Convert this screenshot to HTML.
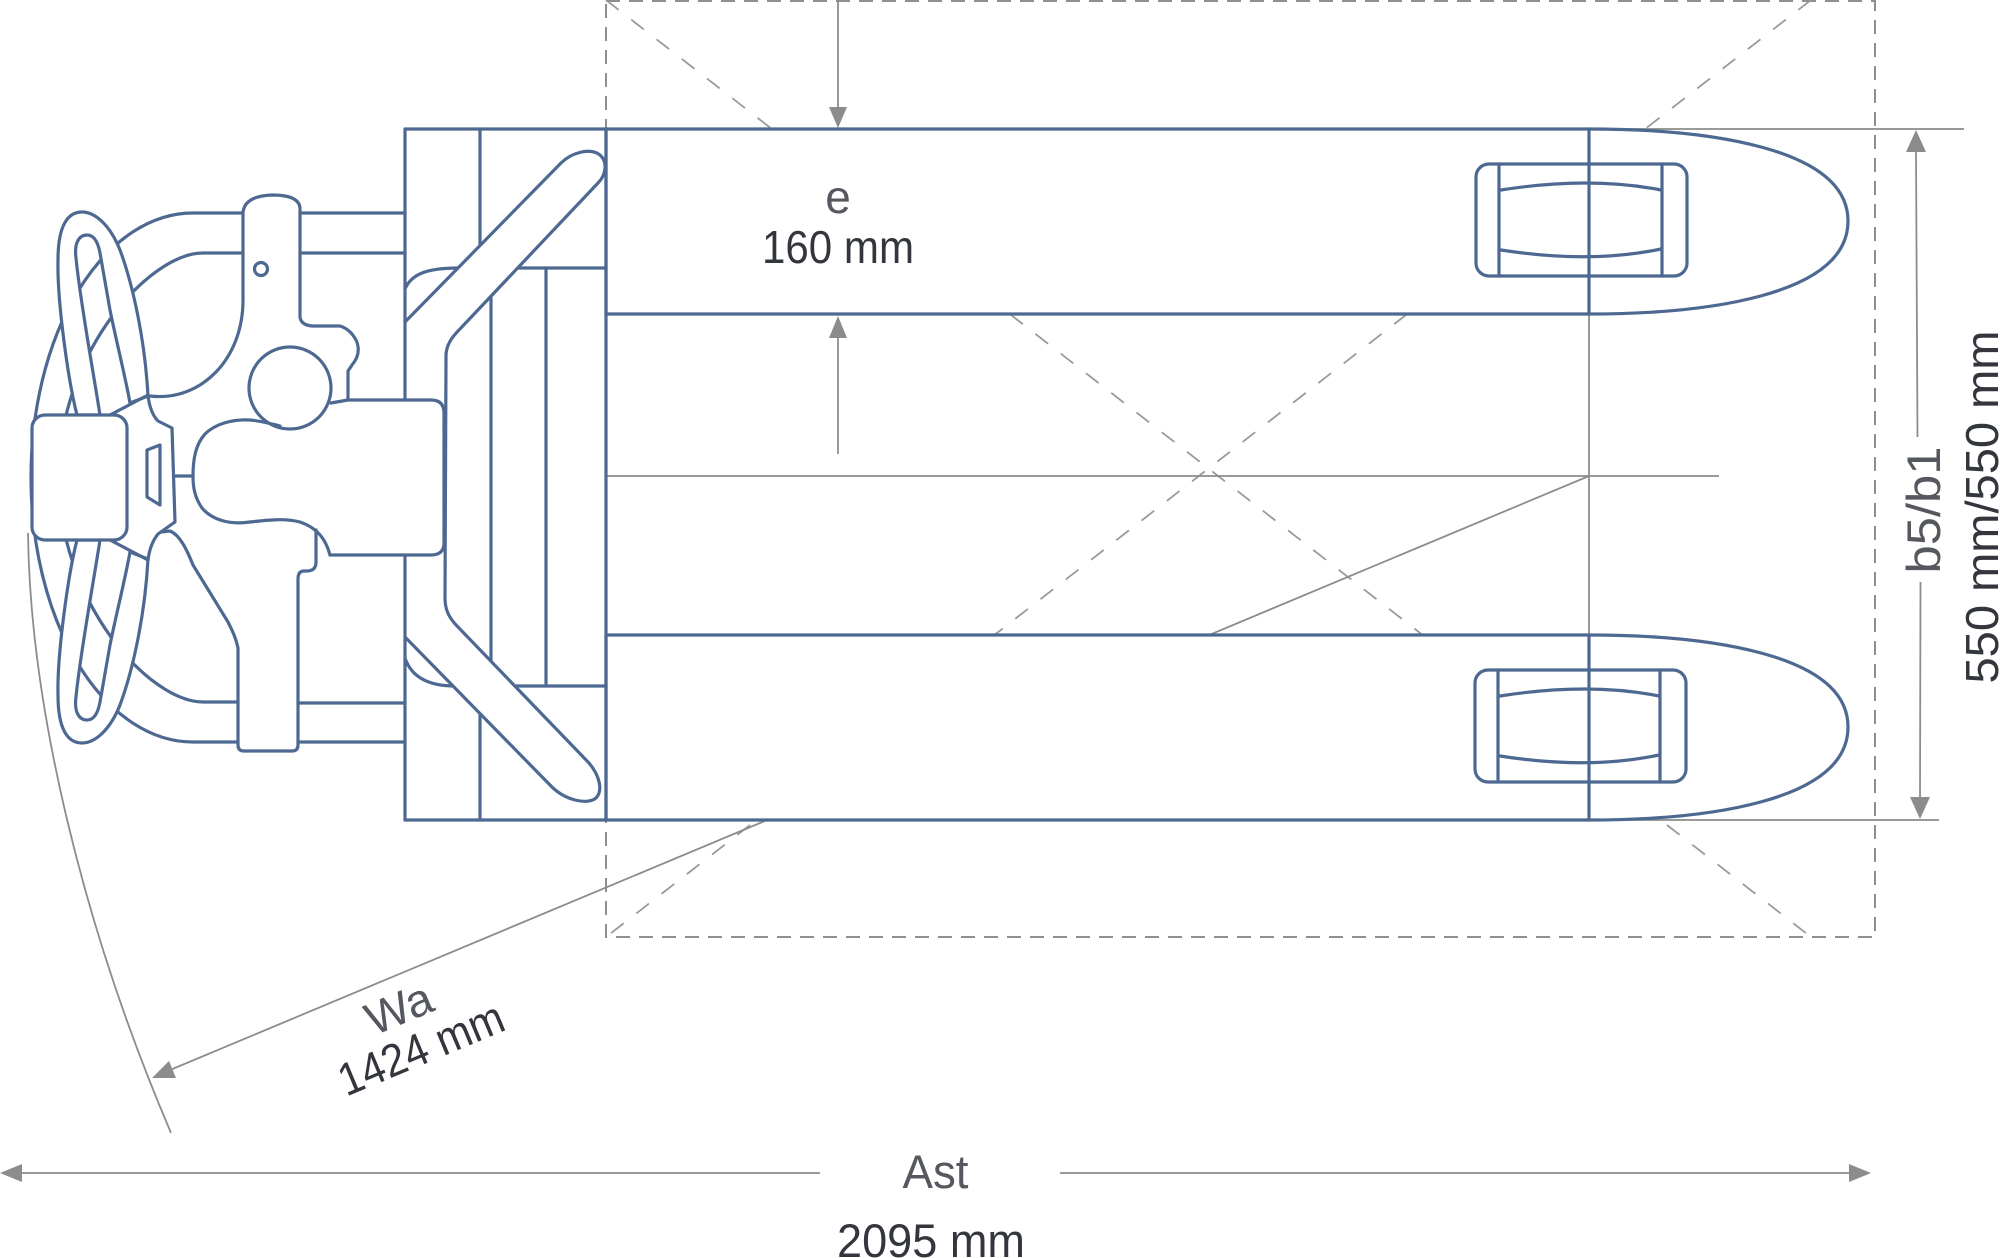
<!DOCTYPE html>
<html>
<head>
<meta charset="utf-8">
<style>
html,body{margin:0;padding:0;background:#fff;}
svg{display:block;}
text{font-family:"Liberation Sans","DejaVu Sans",sans-serif;}
</style>
</head>
<body>
<svg width="2000" height="1258" viewBox="0 0 2000 1258" xmlns="http://www.w3.org/2000/svg">
<rect width="2000" height="1258" fill="#fff"/>

<!-- dashed load rectangle and diagonals -->
<g stroke="#8e8e8e" stroke-width="2" fill="none" stroke-dasharray="14 9">
  <path d="M606,1 H1875 V937 H606 Z"/>
</g>
<g stroke="#9a9a9a" stroke-width="1.8" fill="none" stroke-dasharray="16 16">
  <path d="M606,0 L1811,937"/>
  <path d="M1811,0 L606,937"/>
</g>

<!-- gray dimension lines -->
<g stroke="#8c8c8c" stroke-width="1.8" fill="none">
  <path d="M606,476 H1719"/>
  <path d="M1589,129 V820"/>
  <path d="M1589,129 H1964"/>
  <path d="M1589,820 H1939"/>
  <path d="M1589,476 L170,1070"/>
  <path d="M28,533 C30,700 80,920 171,1133"/>
  <path d="M838,0 V110"/>
  <path d="M838,336 V454"/>
  <path d="M1916,150 L1917.5,437"/>
  <path d="M1920.5,582 L1920,800"/>
  <path d="M20,1173 H820 M1060,1173 H1851"/>
</g>
<g fill="#8c8c8c">
  <polygon points="838,128 829,107 847,107"/>
  <polygon points="838,316 829,338 847,338"/>
  <polygon points="1916,130 1906,152 1926,152"/>
  <polygon points="1920,819 1910,797 1930,797"/>
  <polygon points="0,1173 22,1164 22,1182"/>
  <polygon points="1871,1173 1849,1164 1849,1182"/>
  <polygon points="152,1078 176,1078 169,1061"/>
</g>

<g stroke="#4e6991" stroke-width="3.2" fill="none" stroke-linejoin="round" stroke-linecap="round">
  <!-- forks -->
  <path fill="#fff" d="M606,129 H1589 C1705,129 1848,147 1848,221 C1848,296 1705,314 1589,314 H606 Z"/>
  <path fill="#fff" d="M606,635 H1589 C1705,635 1848,653 1848,727 C1848,802 1705,820 1589,820 H606 Z"/>
  <path d="M1589,129 V314 M1589,635 V820"/>
  <!-- wheels upper -->
  <rect x="1476" y="164" width="211" height="112" rx="13"/>
  <path d="M1499,164 V276 M1662,164 V276"/>
  <path d="M1501,190 Q1590,176 1661,190"/>
  <path d="M1501,250 Q1590,264 1661,249"/>
  <!-- wheels lower -->
  <rect x="1475" y="670" width="211" height="112" rx="13"/>
  <path d="M1498,670 V782 M1660,670 V782"/>
  <path d="M1500,696 Q1589,682 1659,696"/>
  <path d="M1500,756 Q1589,770 1659,755"/>

  <!-- frame internal lines -->
  <path d="M480,129 V262 M480,700 V820"/>
  <path d="M491,280 V680"/>
  <path d="M546,268 V686"/>
  <path d="M500,268 H606 M500,686 H606"/>
  <path d="M405,289 C411,275 425,268 458,268"/>
  <path d="M405,658 C411,676 427,686 455,686"/>

  <!-- tiller -->
  <path fill="#fff" d="M405,322 L561,163 C571,153 590,147 600,155 C608,162 606,175 598,183 L459,330 C451,338 446,346 446,356 L445,598 C445,610 449,618 458,627 L589,763 C600,776 603,791 596,798 C588,805 565,801 550,785 L405,637"/>

  <!-- frame -->
  <path d="M405,129 H606 V820 H405"/>
  <path d="M405,129 V400 M405,555 V820"/>

  <!-- handle bars -->
  <path d="M300,213 H405 M300,253 H405 M298,703 H405 M298,742 H405"/>

  <!-- big arcs -->
  <path d="M243,213 H193 A162,264.5 0 0 0 193,742 H238"/>
  <path d="M243,253 H203 C150,253 60,350 58,477 C60,605 150,702 203,702 H238"/>

  <!-- grip loops -->
  <path fill="#fff" d="M77,415 C68,380 57,300 58,260 C58,225 68,212 82,212 C95,212 110,225 120,250 C133,285 145,340 148,396 L130,403 C125,375 116,340 110,310 L100,253 C98,242 94,235 87,235 C79,235 74,243 76,258 C80,300 93,370 100,415 Z"/>
  <path fill="#fff" transform="matrix(1 0 0 -1 0 955)" d="M77,415 C68,380 57,300 58,260 C58,225 68,212 82,212 C95,212 110,225 120,250 C133,285 145,340 148,396 L130,403 C125,375 116,340 110,310 L100,253 C98,242 94,235 87,235 C79,235 74,243 76,258 C80,300 93,370 100,415 Z"/>

  <!-- grip block -->
  <rect x="32" y="415" width="95" height="125" rx="13" fill="#fff"/>
  <path d="M110,415 L148,395 M110,540 L148,560"/>

  <!-- neck -->
  <path d="M148,395 Q150,413 158,421 L172,428 L175,522 L158,534 Q150,544 148,560"/>
  <path d="M147,450 L160,445 L160,505 L147,497 Z"/>
  <path d="M175,476 H193"/>

  <!-- post upper -->
  <path d="M150,396 C200,402 243,360 243,300 V212 Q245,196 272,195 Q299,195 300,208 V317 Q301,325 312,326 H340 Q350,329 356,340 Q362,353 352,365 L348,371 V400"/>
  <circle cx="261" cy="269" r="6.5"/>
  <circle cx="290" cy="388" r="41"/>

  <!-- block -->
  <path d="M331,403 L348,400 H431 Q444,400 444,413 V543 Q444,555 431,555 H330"/>
  <!-- bulb -->
  <path d="M330,555 C326,540 318,528 300,522 C285,518 268,520 250,522 C230,525 212,520 202,508 C195,498 193,488 193,476 C193,458 196,444 205,434 C215,424 232,419 250,420 C262,421 272,424 280,426"/>

  <!-- post lower -->
  <path d="M316,530 V562 Q316,571 307,571 H304 Q298,571 298,579 V745 Q298,751 292,751 H244 Q238,751 238,745 V648 C236,638 232,630 228,622 L193,565 C187,550 180,535 170,531 L161,532"/>
</g>

<!-- text -->
<text x="838" y="213" font-size="46" fill="#55585e" text-anchor="middle">e</text>
<text x="838" y="263" font-size="46" fill="#33363c" text-anchor="middle" textLength="152" lengthAdjust="spacingAndGlyphs">160 mm</text>

<text x="935.5" y="1188" font-size="47" fill="#55585e" text-anchor="middle" textLength="66" lengthAdjust="spacingAndGlyphs">Ast</text>
<text x="931" y="1257" font-size="47" fill="#33363c" text-anchor="middle" textLength="188" lengthAdjust="spacingAndGlyphs">2095 mm</text>

<text transform="translate(1940,510) rotate(-90)" font-size="47" fill="#55585e" text-anchor="middle" textLength="127" lengthAdjust="spacingAndGlyphs">b5/b1</text>
<text transform="translate(1998,507) rotate(-90)" font-size="46" fill="#33363c" text-anchor="middle" textLength="353" lengthAdjust="spacingAndGlyphs">550 mm/550 mm</text>

<text transform="translate(405,1023) rotate(-22.7)" font-size="46" fill="#55585e" text-anchor="middle" textLength="68" lengthAdjust="spacingAndGlyphs">Wa</text>
<text transform="translate(427,1063) rotate(-22.7)" font-size="46" fill="#33363c" text-anchor="middle" textLength="175" lengthAdjust="spacingAndGlyphs">1424 mm</text>
</svg>
</body>
</html>
